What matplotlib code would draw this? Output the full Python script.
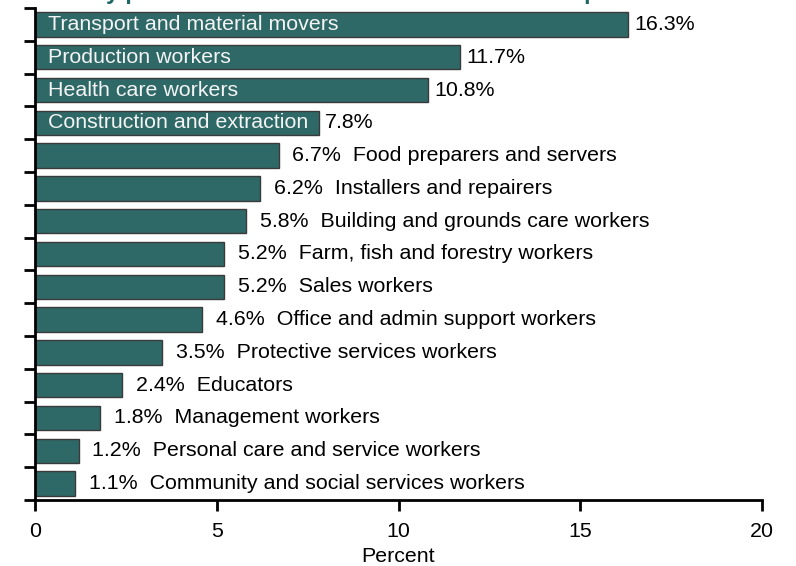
import matplotlib.pyplot as plt
from matplotlib.textpath import TextPath
from matplotlib.font_manager import FontProperties

plt.rcParams['font.family'] = ['Liberation Sans', 'DejaVu Sans']

# data, top to bottom
occupations = ['Transport and material movers', 'Production workers', 'Health care workers',
               'Construction and extraction', 'Food preparers and servers', 'Installers and repairers',
               'Building and grounds care workers', 'Farm, fish and forestry workers', 'Sales workers',
               'Office and admin support workers', 'Protective services workers', 'Educators',
               'Management workers', 'Personal care and service workers',
               'Community and social services workers']
percents = [16.3, 11.7, 10.8, 7.8, 6.7, 6.2, 5.8, 5.2, 5.2, 4.6, 3.5, 2.4, 1.8, 1.2, 1.1]
n_inside = 4  # first bars carry their label inside

title = 'Worker deaths by percent of the total number for each occupation'

bar_color = '#2e6967'
title_color = '#1d6864'
fs = 15.4

fig = plt.figure(figsize=(7.96, 5.66), dpi=100)
ax = fig.add_axes([35/796, 1 - 500/566, 727/796, 492/566])

y = list(range(len(percents)))
ax.barh(y, percents, height=0.74, color=bar_color, edgecolor='#3a3a3a', linewidth=1.0)

for i, (lab, val) in enumerate(zip(occupations, percents)):
    if i < n_inside:
        ax.text(0.35, i, lab, color='#f4f4f4', fontsize=fs, va='center', ha='left')
        ax.text(val + 0.18, i, f'{val}%', color='black', fontsize=fs, va='center', ha='left')
    else:
        ax.text(val + 0.38, i, f'{val}%  {lab}', color='black', fontsize=fs, va='center', ha='left')

ax.set_xlim(0, 20)
ax.set_ylim(len(percents) - 0.5, -0.5)
ax.set_xticks([0, 5, 10, 15, 20])
ax.set_yticks([i - 0.5 for i in range(len(percents) + 1)])
ax.set_yticklabels([])
ax.tick_params(axis='both', direction='out', length=8, width=2, labelsize=fs, color='black')
ax.tick_params(axis='x', pad=8)
ax.set_xlabel('Percent', fontsize=fs, labelpad=4)

ax.spines['top'].set_visible(False)
ax.spines['right'].set_visible(False)
ax.spines['left'].set_linewidth(2)
ax.spines['bottom'].set_linewidth(2)

# title sits above the canvas, only its descenders show
# size it so the two descending p's fall where the reference has them
fp = FontProperties(family='Liberation Sans', weight='bold')
def w(s, size):
    return TextPath((0, 0), s, size=size, prop=fp).get_extents().width * 100 / 72
i1 = title.index('percent')
i2 = title.index('occupation') + 3
d = w(title[:i2 + 1], 14) - w(title[:i1 + 1], 14)
tsize = 14 * (583 - 140) / d
x0 = 104 - w(title[:title.index('by') + 1], tsize)
fig.text(x0 / 796, 1 + 1.5 / 566, title, fontsize=tsize, fontweight='bold',
         color=title_color, ha='left', va='baseline')

fig.savefig('out.png', dpi=100)
